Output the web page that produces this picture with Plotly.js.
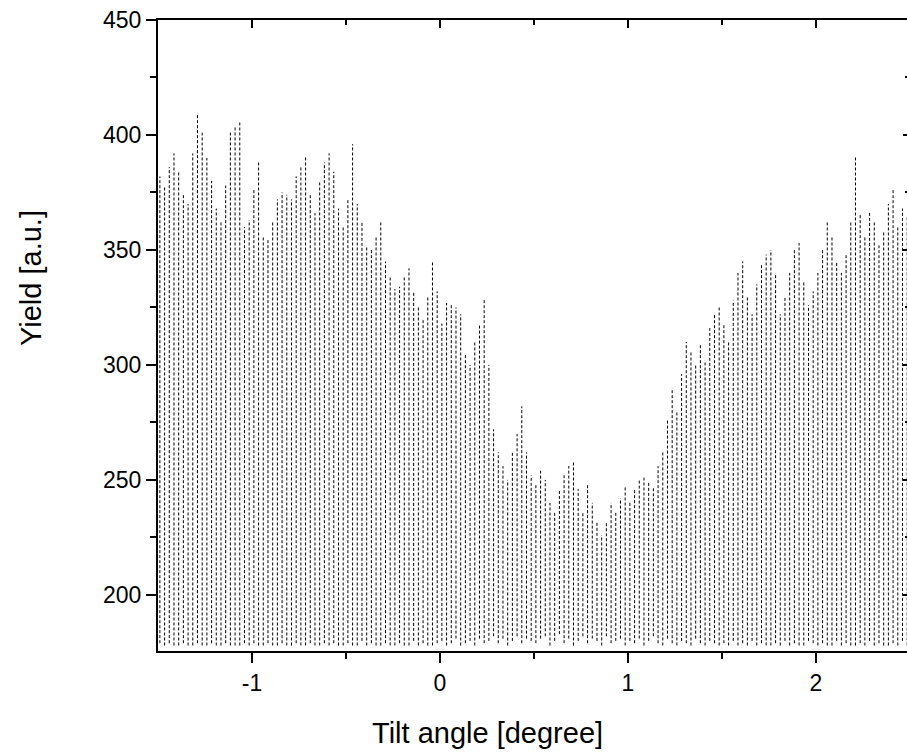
<!DOCTYPE html>
<html>
<head>
<meta charset="utf-8">
<script src="https://cdn.plot.ly/plotly-3.0.1.min.js"></script>
<style>
html,body{margin:0;padding:0;overflow:hidden;background:#fff;}
#chart{width:912px;height:756px;}
</style>
</head>
<body>
<div id="chart"></div>
<script>
// Tilt angle (degree) of each scan stroke
const angle = [
-1.49,-1.465,-1.44,-1.415,-1.39,-1.365,-1.34,-1.315,-1.29,-1.265,
-1.24,-1.215,-1.19,-1.165,-1.14,-1.115,-1.09,-1.065,-1.04,-1.015,
-0.99,-0.965,-0.94,-0.915,-0.89,-0.865,-0.84,-0.815,-0.79,-0.765,
-0.74,-0.715,-0.69,-0.665,-0.64,-0.615,-0.59,-0.565,-0.54,-0.515,
-0.49,-0.465,-0.44,-0.415,-0.39,-0.365,-0.34,-0.315,-0.29,-0.265,
-0.24,-0.215,-0.19,-0.165,-0.14,-0.115,-0.09,-0.065,-0.04,-0.015,
0.01,0.035,0.06,0.085,0.11,0.135,0.16,0.185,0.21,0.235,
0.26,0.285,0.31,0.335,0.36,0.385,0.41,0.435,0.46,0.485,
0.51,0.535,0.56,0.585,0.61,0.635,0.66,0.685,0.71,0.735,
0.76,0.785,0.81,0.835,0.86,0.885,0.91,0.935,0.96,0.985,
1.01,1.035,1.06,1.085,1.11,1.135,1.16,1.185,1.21,1.235,
1.26,1.285,1.31,1.335,1.36,1.385,1.41,1.435,1.46,1.485,
1.51,1.535,1.56,1.585,1.61,1.635,1.66,1.685,1.71,1.735,
1.76,1.785,1.81,1.835,1.86,1.885,1.91,1.935,1.96,1.985,
2.01,2.035,2.06,2.085,2.11,2.135,2.16,2.185,2.21,2.235,
2.26,2.285,2.31,2.335,2.36,2.385,2.41,2.435,2.46,2.485
];

// Maximum yield reached by each stroke (a.u.)
const peakYield = [
382,378,386,392,384,374,370,392,409,401,
390,380,368,362,378,401,404,406,360,363,
376,388,356,355,362,372,375,374,372,382,
386,391,374,366,380,388,392,384,368,360,
372,396,370,362,352,350,356,362,345,338,
333,334,338,342,332,325,320,330,345,332,
318,327,326,325,322,305,300,310,318,329,
300,272,262,256,250,262,270,282,262,252,
248,254,250,240,236,246,252,256,258,246,
236,248,240,232,226,232,240,236,242,247,
240,246,250,251,249,247,256,262,276,290,
280,296,310,306,300,309,302,316,322,325,
318,310,328,340,345,330,322,335,344,348,
350,340,322,330,340,350,353,336,326,332,
340,350,362,356,345,340,348,362,391,366,
356,367,362,352,358,370,376,360,368,365
];

// Minimum yield reached by each stroke (a.u.)
const troughYield = [
179,178,179,178,178,179,178,178,179,178,
178,179,178,178,179,178,178,178,179,178,
179,178,178,179,178,178,179,178,178,179,
178,178,179,178,178,179,178,179,178,178,
179,178,178,180,178,179,178,178,179,178,
178,179,178,178,180,178,179,178,178,179,
180,178,179,181,178,179,180,178,181,179,
180,182,179,181,178,180,182,179,181,180,
179,181,182,178,180,183,179,181,178,180,
182,179,181,180,178,182,179,180,181,178,
180,179,181,178,180,182,179,178,181,179,
178,180,179,178,181,179,178,180,179,178,
179,178,180,178,179,178,180,178,179,178,
178,179,178,180,178,179,178,178,180,179,
178,179,178,178,180,178,179,178,178,179,
178,180,178,179,178,178,179,178,180,178
];

const xTickVals = [-1, 0, 1, 2];
const xTickText = ["-1", "0", "1", "2"];
const xMinorVals = [-0.5, 0.5, 1.5];
const yTickVals = [200, 250, 300, 350, 400, 450];
const yTickText = ["200", "250", "300", "350", "400", "450"];
const yMinorVals = [225, 275, 325, 375, 425];

const xTitle = "Tilt angle [degree]";
const yTitle = "Yield [a.u.]";

// Build vertical strokes (one per sample)
const sx = [], sy = [];
for (let i = 0; i < angle.length; i++) {
  sx.push(angle[i], angle[i], null);
  sy.push(troughYield[i], peakYield[i], null);
}

const xRange = [-1.5, 2.5];
const yRange = [175.6, 450];

const traces = [
  {
    x: sx, y: sy, type: 'scatter', mode: 'lines',
    line: {color: '#000', width: 1, dash: '3px,2px'},
    connectgaps: false, hoverinfo: 'skip', showlegend: false
  },
  {
    x: [], y: [], type: 'scatter', mode: 'lines',
    xaxis: 'x2', yaxis: 'y2', hoverinfo: 'skip', showlegend: false
  }
];

const axisFont = {family: 'Liberation Sans, Arial, sans-serif', size: 23, color: '#000'};

const layout = {
  width: 912, height: 756,
  margin: {l: 158, r: 2, t: 20, b: 105, pad: 0},
  paper_bgcolor: '#fff', plot_bgcolor: '#fff',
  showlegend: false,
  font: axisFont,
  xaxis: {
    range: xRange, tickmode: 'array', tickvals: xTickVals, ticktext: xTickText,
    ticks: 'outside', ticklen: 10, tickwidth: 2, tickcolor: '#000',
    showline: true, linewidth: 2, linecolor: '#000',
    showgrid: false, zeroline: false, tickfont: axisFont,
    minor: {tickvals: xMinorVals, ticks: 'outside', ticklen: 6, tickwidth: 2, tickcolor: '#000', showgrid: false}
  },
  yaxis: {
    range: yRange, tickmode: 'array', tickvals: yTickVals, ticktext: yTickText,
    ticks: 'outside', ticklen: 10, tickwidth: 2, tickcolor: '#000',
    showline: true, linewidth: 2, linecolor: '#000',
    showgrid: false, zeroline: false, tickfont: axisFont,
    minor: {tickvals: yMinorVals, ticks: 'outside', ticklen: 6, tickwidth: 2, tickcolor: '#000', showgrid: false}
  },
  xaxis2: {
    overlaying: 'x', side: 'top', anchor: 'y2', range: xRange,
    tickmode: 'array', tickvals: xTickVals, showticklabels: false,
    ticks: 'inside', ticklen: 8, tickwidth: 2, tickcolor: '#000',
    showline: true, linewidth: 2, linecolor: '#000',
    showgrid: false, zeroline: false,
    minor: {tickvals: xMinorVals, ticks: 'inside', ticklen: 5, tickwidth: 2, tickcolor: '#000', showgrid: false}
  },
  yaxis2: {
    overlaying: 'y', side: 'right', anchor: 'x2', range: yRange,
    tickmode: 'array', tickvals: yTickVals, showticklabels: false,
    ticks: 'inside', ticklen: 7, tickwidth: 2, tickcolor: '#000',
    showline: true, linewidth: 2, linecolor: '#000',
    showgrid: false, zeroline: false,
    minor: {tickvals: yMinorVals, ticks: 'inside', ticklen: 5, tickwidth: 2, tickcolor: '#000', showgrid: false}
  },
  annotations: [
    {
      text: xTitle, xref: 'paper', yref: 'paper', x: 0.4388, y: -0.130,
      xanchor: 'center', yanchor: 'middle', showarrow: false,
      font: {family: 'Liberation Sans, Arial, sans-serif', size: 29, color: '#000'}
    },
    {
      text: yTitle, xref: 'paper', yref: 'paper', x: -0.169, y: 0.591,
      xanchor: 'center', yanchor: 'middle', textangle: -90, showarrow: false,
      font: {family: 'Liberation Sans, Arial, sans-serif', size: 29, color: '#000'}
    }
  ]
};

Plotly.newPlot('chart', traces, layout, {staticPlot: true, displayModeBar: false});
</script>
</body>
</html>
